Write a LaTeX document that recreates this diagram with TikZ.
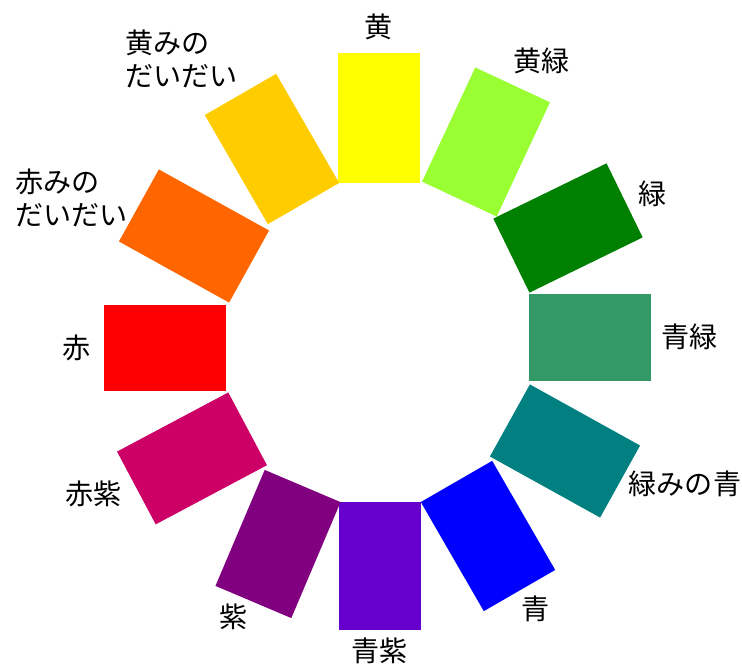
\documentclass[tikz,border=0pt]{standalone}
\usepackage{fontspec}
\newfontfamily\jpfont{Noto Sans CJK JP}
\definecolor{hue-y}{HTML}{FFFF00}
\definecolor{hue-yg}{HTML}{99FF33}
\definecolor{hue-g}{HTML}{008000}
\definecolor{hue-bg}{HTML}{339966}
\definecolor{hue-gb}{HTML}{008080}
\definecolor{hue-b}{HTML}{0000FF}
\definecolor{hue-bv}{HTML}{6600CC}
\definecolor{hue-v}{HTML}{800080}
\definecolor{hue-rv}{HTML}{CC0066}
\definecolor{hue-r}{HTML}{FF0000}
\definecolor{hue-ro}{HTML}{FF6600}
\definecolor{hue-yo}{HTML}{FFCC00}
\tikzset{
	swatch/.style={rectangle, inner sep=0pt, minimum width=2.06cm, minimum height=3.15cm},
	huename/.style={anchor=center, align=left, inner sep=0pt, font=\jpfont\fontsize{20}{23.5}\selectfont}
}
\begin{document}
\begin{tikzpicture}
	\useasboundingbox (-9.475,-8.05) rectangle (9.075,8.55);

	%colour swatches round the wheel
	\node[swatch, fill=hue-y, minimum height=3.25cm] (y) at (0,5.6) {};
	\node[swatch, fill=hue-yg, rotate=-25] (yg) at (2.675,5.0) {};
	\node[swatch, fill=hue-g, rotate=-64] (g) at (4.725,2.85) {};
	\node[swatch, fill=hue-bg, rotate=90, minimum width=2.17cm, minimum height=3.05cm] (bg) at (5.275,0.11) {};
	\node[swatch, fill=hue-gb, rotate=61] (gb) at (4.65,-2.725) {};
	\node[swatch, fill=hue-b, rotate=30] (b) at (2.725,-4.85) {};
	\node[swatch, fill=hue-bv, minimum height=3.2cm] (bv) at (0.025,-5.6) {};
	\node[swatch, fill=hue-v, rotate=-23] (v) at (-2.525,-5.05) {};
	\node[swatch, fill=hue-rv, rotate=-62] (rv) at (-4.675,-2.91) {};
	\node[swatch, fill=hue-r, rotate=90, minimum width=2.15cm, minimum height=3.05cm] (r) at (-5.35,-0.15) {};
	\node[swatch, fill=hue-ro, rotate=61] (ro) at (-4.625,2.65) {};
	\node[swatch, fill=hue-yo, rotate=30] (yo) at (-2.675,4.825) {};

	%names of the hues
	\node[huename] (y-name) at (0,7.875) {黄};
	\node[huename] (yg-name) at (4.075,7.025) {黄緑};
	\node[huename] (g-name) at (6.85,3.7) {緑};
	\node[huename] (bg-name) at (7.775,0.125) {青緑};
	\node[huename] (gb-name) at (7.65,-3.55) {緑みの青};
	\node[huename] (b-name) at (3.925,-6.675) {青};
	\node[huename] (bv-name) at (0.025,-7.725) {青紫};
	\node[huename] (v-name) at (-3.625,-6.875) {紫};
	\node[huename] (rv-name) at (-7.125,-3.8) {赤紫};
	\node[huename] (r-name) at (-7.55,-0.15) {赤};
	\node[huename, anchor=west] (ro-name) at (-9.1,3.6) {赤みの\\だいだい};
	\node[huename, anchor=west] (yo-name) at (-6.35,7.075) {黄みの\\だいだい};
\end{tikzpicture}
\end{document}
